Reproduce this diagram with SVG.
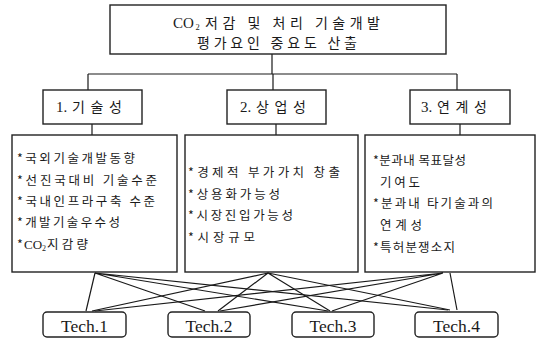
<svg xmlns="http://www.w3.org/2000/svg" width="537" height="345" viewBox="0 0 537 345">
<style>
.box{fill:#fff;stroke:#222;stroke-width:1.4}
.t{font-family:"Liberation Serif","Noto Sans CJK KR",serif;fill:#1a1a1a}
.k{font-family:"Noto Sans CJK KR","Liberation Sans",sans-serif;fill:#1a1a1a}
.h{font-size:14px}
.s{font-size:12.5px}
.tech{font-family:"Liberation Serif",serif;font-size:17.5px;fill:#1a1a1a}
.ln{stroke:#1a1a1a;stroke-width:1.2;fill:none}
</style>
<rect width="537" height="345" fill="#fff"/>
<g id="connectors">
<path class="ln" d="M272,54 V74 M88,74 H457 M88,74 V90 M273,74 V90 M457,74 V90"/>
<path class="ln" d="M92,124 V135 M276,124 V135 M460,124 V135"/>
<path class="ln" d="M95,273 L86,311 M95,273 L205,311 M95,273 L328,311 M95,273 L448,310"/>
<path class="ln" d="M268,273 L92,311 M268,273 L218,311 M268,273 L330,311 M268,273 L450,310"/>
<path class="ln" d="M443,273 L95,311 M443,273 L220,311 M443,273 L332,311 M450,273 L457,310"/>
</g>
<g id="top">
<rect class="box" x="110" y="5" width="336" height="49"/>
<text class="t" x="173" y="27.5" font-size="15">CO</text>
<text class="t" x="195.5" y="30" font-size="8.5">2</text>
<text class="k h" x="205" y="27.5" textLength="175" lengthAdjust="spacing">저감 및 처리 기술개발</text>
<text class="k h" x="197" y="47.5" textLength="160" lengthAdjust="spacing">평가요인 중요도 산출</text>
</g>
<g id="c1">
<rect class="box" x="43" y="90" width="99" height="34"/>
<text class="t" x="56" y="112" font-size="15">1.</text>
<text class="k h" x="72" y="112" textLength="50" lengthAdjust="spacing">기술성</text>
</g>
<g id="c2">
<rect class="box" x="227" y="90" width="99" height="34"/>
<text class="t" x="240" y="112" font-size="15">2.</text>
<text class="k h" x="256" y="112" textLength="50" lengthAdjust="spacing">상업성</text>
</g>
<g id="c3">
<rect class="box" x="410" y="90" width="100" height="34"/>
<text class="t" x="421" y="112" font-size="15">3.</text>
<text class="k h" x="437" y="112" textLength="50" lengthAdjust="spacing">연계성</text>
</g>
<g id="d1">
<rect class="box" x="12" y="135" width="165" height="137"/>
<text class="k s" x="17" y="163" textLength="118" lengthAdjust="spacing">*국외기술개발동향</text>
<text class="k s" x="17" y="185" textLength="140" lengthAdjust="spacing">*선진국대비 기술수준</text>
<text class="k s" x="17" y="206" textLength="138" lengthAdjust="spacing">*국내인프라구축 수준</text>
<text class="k s" x="17" y="227" textLength="103" lengthAdjust="spacing">*개발기술우수성</text>
<text class="k s" x="17" y="249">*</text>
<text class="t" x="24" y="249" font-size="13">CO</text>
<text class="t" x="42" y="251" font-size="8">2</text>
<text class="k s" x="47" y="249" textLength="41" lengthAdjust="spacing">지감량</text>
</g>
<g id="d2">
<rect class="box" x="185" y="135" width="173" height="137"/>
<text class="k s" x="188" y="177" textLength="152" lengthAdjust="spacing">*경제적 부가가치 창출</text>
<text class="k s" x="188" y="199" textLength="92" lengthAdjust="spacing">*상용화가능성</text>
<text class="k s" x="188" y="220" textLength="105" lengthAdjust="spacing">*시장진입가능성</text>
<text class="k s" x="188" y="242" textLength="67" lengthAdjust="spacing">*시장규모</text>
</g>
<g id="d3">
<rect class="box" x="365" y="135" width="170" height="137"/>
<text class="k s" x="373" y="165" textLength="93" lengthAdjust="spacing">*분과내 목표달성</text>
<text class="k s" x="380" y="187" textLength="40" lengthAdjust="spacing">기여도</text>
<text class="k s" x="373" y="208" textLength="120" lengthAdjust="spacing">*분과내 타기술과의</text>
<text class="k s" x="380" y="230" textLength="42" lengthAdjust="spacing">연계성</text>
<text class="k s" x="373" y="252" textLength="82" lengthAdjust="spacing">*특허분쟁소지</text>
</g>
<g id="tech1">
<rect class="box" x="43" y="312" width="83" height="25" rx="4"/>
<text class="tech" x="84.5" y="332" text-anchor="middle">Tech.1</text>
</g>
<g id="tech2">
<rect class="box" x="168" y="312" width="82" height="25" rx="4"/>
<text class="tech" x="209" y="332" text-anchor="middle">Tech.2</text>
</g>
<g id="tech3">
<rect class="box" x="292" y="312" width="82" height="25" rx="4"/>
<text class="tech" x="333" y="332" text-anchor="middle">Tech.3</text>
</g>
<g id="tech4">
<rect class="box" x="415" y="312" width="83" height="25" rx="4"/>
<text class="tech" x="456.5" y="332" text-anchor="middle">Tech.4</text>
</g>
</svg>
